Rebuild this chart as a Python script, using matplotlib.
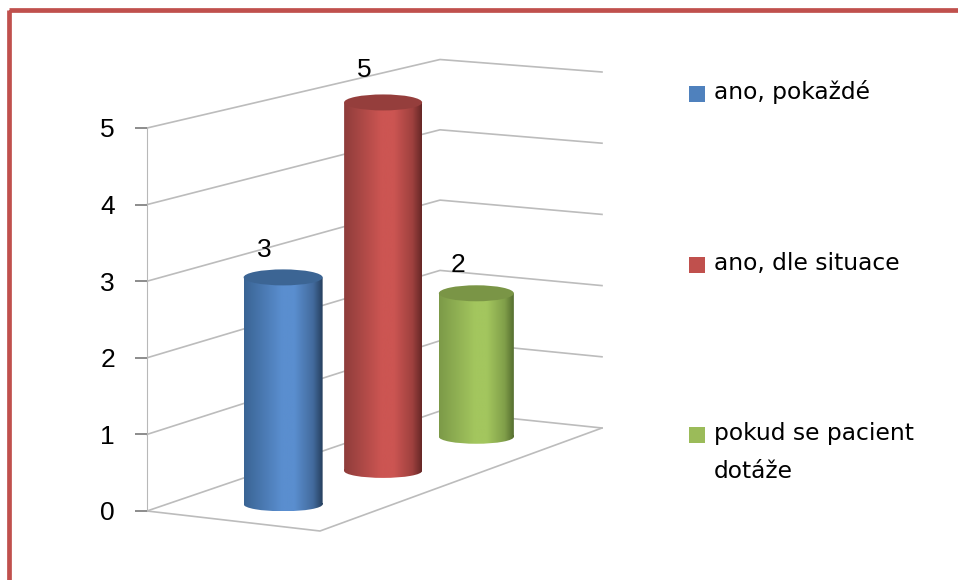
import numpy as np
import matplotlib
matplotlib.use("Agg")
import matplotlib.pyplot as plt
from matplotlib.colors import LinearSegmentedColormap, to_rgb
from matplotlib.patches import Ellipse, PathPatch, Rectangle
from matplotlib.path import Path

W, H = 958, 580

categories = ["ano, pokaždé", "ano, dle situace", "pokud se pacient\ndotáže"]
values = [3, 5, 2]
value_ticks = [0, 1, 2, 3, 4, 5]
# left edge, middle, right edge, top cap
bar_colors = [
    ["#3a6494", "#5a8ecf", "#263f5e", "#3c6594"],
    ["#8f3d3b", "#cc5552", "#672827", "#953e3c"],
    ["#7c9a48", "#a3c65e", "#566f30", "#7a9546"],
]

# corners of the floor in pixels: front left, back left, back right, front right
FL = np.array([147.0, 511.0])
BL = np.array([440.0, 411.0])
BR = np.array([602.0, 428.0])
FR = np.array([320.0, 531.0])
UNIT_FRONT = 76.6
UNIT_BACK = 70.3
UNIT_BACK_RIGHT = 71.2
BAR_RX = [39.5, 39, 37.5]
BAR_ACROSS = [0.51, 0.535, 0.52]
LABEL_DX = [-19, -19, -18]
LABEL_DY = [27, 32, 28]
CAP_RY = 8
BASE_RY = 7


def project(depth, across, value):
    """depth 0-1 from front to back, across 0-1 from left wall to right"""
    near = FL + (FR - FL) * across
    far = BL + (BR - BL) * across
    p = near + (far - near) * depth
    back = UNIT_BACK + (UNIT_BACK_RIGHT - UNIT_BACK) * across
    unit = UNIT_FRONT + (back - UNIT_FRONT) * depth
    return p[0], p[1] - value * unit


def shade(left, mid, right):
    mix = tuple(0.55 * m + 0.45 * r for m, r in zip(to_rgb(mid), to_rgb(right)))
    return [(0, left), (0.48, mid), (0.64, mid), (0.88, mix), (1, right)]


fig = plt.figure(figsize=(W / 100, H / 100), dpi=100, facecolor="white")
ax = fig.add_axes([0, 0, 1, 1])
ax.set_xlim(0, W)
ax.set_ylim(H, 0)
ax.axis("off")

# frame
ax.add_patch(Rectangle((9.5, 10), W + 20, H + 20, fill=False, ec="#c0504d", lw=3.4, zorder=1))

# walls
grid = "#bcbcbc"
for v in value_ticks:
    a = project(0, 0, v)
    b = project(1, 0, v)
    c = project(1, 1, v)
    ax.plot([a[0], b[0], c[0]], [a[1], b[1], c[1]], color=grid, lw=1.2, zorder=2)
d = project(0, 1, 0)
c = project(1, 1, 0)
a = project(0, 0, 0)
ax.plot([a[0], d[0], c[0]], [a[1], d[1], c[1]], color=grid, lw=1.2, zorder=2)

# bars, back ones first
depths = [1 / 6, 3 / 6, 5 / 6]
order = [2, 1, 0]
for i in order:
    x0, y0 = project(depths[i], BAR_ACROSS[i], 0)
    x1, y1 = project(depths[i], BAR_ACROSS[i], values[i])
    rx = BAR_RX[i]
    left, mid, right, cap = bar_colors[i]
    cmap = LinearSegmentedColormap.from_list("bar%d" % i, shade(left, mid, right))
    base = Ellipse((x0, y0), 2 * rx, 2 * BASE_RY)
    body = Path.make_compound_path(
        Path([(x0 - rx, y1), (x0 + rx, y1), (x0 + rx, y0), (x0 - rx, y0), (x0 - rx, y1)]),
        base.get_path().transformed(base.get_patch_transform()),
    )
    clip = PathPatch(body, transform=ax.transData, fc="none", ec="none")
    ax.add_patch(clip)
    im = ax.imshow(np.linspace(0, 1, 200).reshape(1, -1), cmap=cmap, aspect="auto",
                   extent=(x0 - rx, x0 + rx, y0 + BASE_RY, y1), zorder=5 + 2 - i)
    im.set_clip_path(clip)
    ax.add_patch(Ellipse((x1, y1), 2 * rx, 2 * CAP_RY, fc=cap, ec="none", zorder=5.5 + 2 - i))
    ax.text(x1 + LABEL_DX[i], y1 - LABEL_DY[i], str(values[i]), fontsize=19, family="Liberation Sans",
            ha="center", va="center", zorder=9)
ax.set_xlim(0, W)
ax.set_ylim(H, 0)

# value axis
ax_val = fig.add_axes([147 / W, (H - 511) / H, 0.001, 383 / H])
ax_val.patch.set_alpha(0)
ax_val.set_ylim(0, 5)
ax_val.set_xticks([])
ax_val.set_yticks(value_ticks)
ax_val.tick_params(axis="y", length=9, width=1.4, color="#8c8c8c", pad=14, labelsize=19)
for lab in ax_val.get_yticklabels():
    lab.set_family("Liberation Sans")
for s in ["top", "right", "bottom"]:
    ax_val.spines[s].set_visible(False)
ax_val.spines["left"].set_color("#b8b8b8")

# legend
legend_y = [93.5, 265, 435]
legend_fc = ["#4f81bd", "#c0504d", "#9bbb59"]
for name, y, fc in zip(categories, legend_y, legend_fc):
    ax.add_patch(Rectangle((689, y - 8), 16, 16, fc=fc, ec="none"))
    ax.text(714, y - 13, name, fontsize=16.8, family="DejaVu Sans", ha="left", va="top", linespacing=1.85)

fig.savefig("out.png", dpi=100)
